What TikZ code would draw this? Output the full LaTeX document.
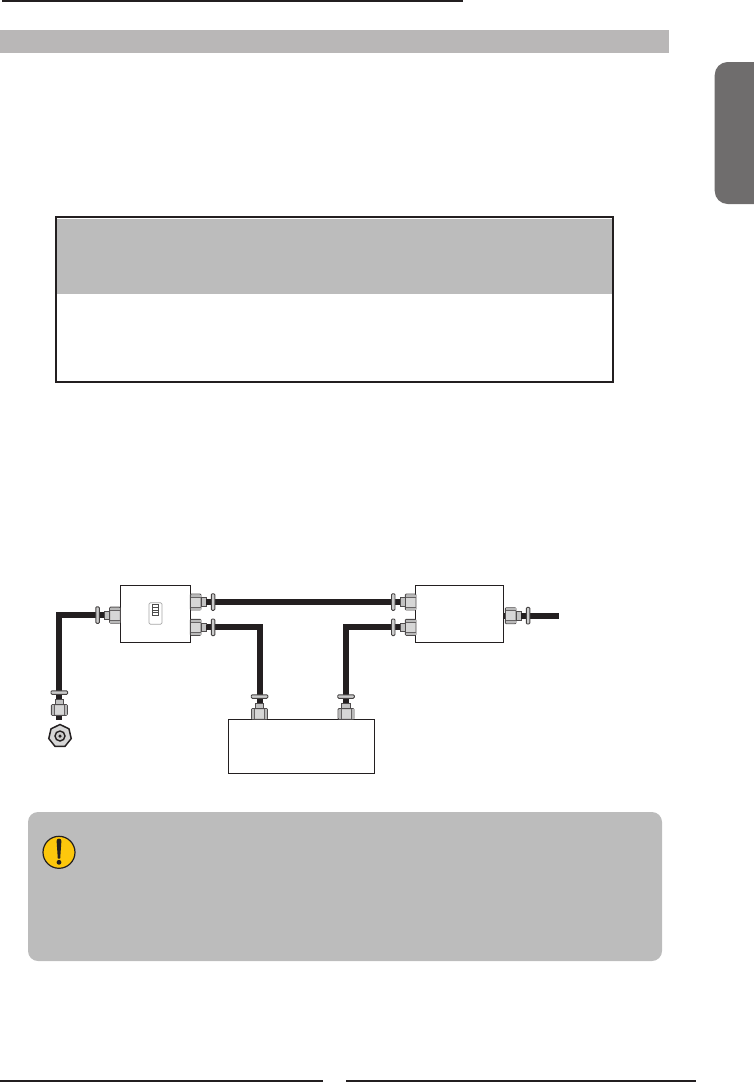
\documentclass[tikz,border=0pt]{standalone}
\usepackage{tikz}
\usetikzlibrary{calc}
\usetikzlibrary{shapes.geometric}
\definecolor{ink}{HTML}{231F20}
\definecolor{bargray}{HTML}{B9B7B7}
\definecolor{panelgray}{HTML}{BCBCBC}
\definecolor{tabgray}{HTML}{6F6D6D}
\definecolor{nutgray}{HTML}{D6D6D6}
\definecolor{collargray}{HTML}{A8A8A8}
\definecolor{alertyellow}{HTML}{FDC70C}
\tikzset{
  pipe/.style={draw=ink,line width=6pt,miter limit=10},
  unitbox/.style={rectangle,draw=ink,fill=white,line width=1pt,inner sep=0pt},
  pics/fitting/.style={code={
    \filldraw[fill=nutgray,draw=ink!80,line width=.9pt,rounded corners=1pt] (0,-8) rectangle (10.7,8);
    \fill[collargray!80] (.5,-7.5) rectangle (10.2,-5);
    \fill[collargray!80] (.5,5) rectangle (10.2,7.5);
    \draw[ink!70,line width=.5pt] (.5,-5) -- (10.2,-5) (.5,5) -- (10.2,5);
    \filldraw[fill=collargray!70,draw=ink!80,line width=.8pt] (10.7,-4.2) rectangle (16,4.2);
    \fill[ink] (16,-2.8) rectangle (21.5,2.8);
    \filldraw[fill=collargray!60,draw=ink!85,line width=.9pt,rounded corners=1pt] (21,-8.3) rectangle (24.5,8.3);
  }}
}
\begin{document}
\begin{tikzpicture}[x=1pt,y=-1pt]
\useasboundingbox (0,0) rectangle (754,1082);

\fill[ink] (2,0) rectangle (463,2);
\fill[bargray] (0,30) rectangle (669,53);
\fill[tabgray] (754,62) {[rounded corners=13pt] -- (714.7,62) -- (714.7,204)} -- (754,204) -- cycle;

\fill[panelgray] (57,218.7) rectangle (612,294);
\draw[ink,line width=2pt] (56,217) rectangle (613,382);

\node[unitbox,minimum width=70pt,minimum height=57pt] (splitter) at (155.3,613.6) {};
\node[unitbox,minimum width=88.4pt,minimum height=57pt] (tuner) at (459.5,613.6) {};
\node[unitbox,minimum width=146.4pt,minimum height=54pt] (unit) at (301.5,746.3) {};
\node[regular polygon,regular polygon sides=7,draw=ink,line width=1.5pt,fill=nutgray,inner sep=0pt,minimum size=23pt] (socket) at (60,736) {};
\node[circle,draw=ink,line width=1.4pt,fill=collargray!60,inner sep=0pt,minimum size=10pt] (socketring) at (socket.center) {};
\node[circle,fill=ink,inner sep=0pt,minimum size=3.5pt] (socketpin) at (socket.center) {};

\coordinate (wallin) at (59,720);
\coordinate (unitl) at (259.5,719.3);
\coordinate (unitr) at (346,719.3);
\coordinate (outend) at (559,615.7);
\coordinate (splitw) at ($(splitter.west)+(0,1.5)$);
\coordinate (splitt) at (190.3,602);
\coordinate (splitb) at (190.3,627.3);
\coordinate (tunert) at (415.3,602);
\coordinate (tunerb) at (415.3,627.3);

\draw[pipe] (splitt) -- (tunert);
\draw[pipe] (splitb) -| (unitl);
\draw[pipe] (tunerb) -| (unitr);
\draw[pipe] (splitw) -| (wallin);
\draw[pipe] (tuner.east |- outend) -- (outend);

\pic at (190.3,602) {fitting};
\pic at (190.3,627.3) {fitting};
\pic[rotate=180] at (120.3,615.1) {fitting};
\pic[rotate=180] at (416,602) {fitting};
\pic[rotate=180] at (416,627.3) {fitting};
\pic at (505.3,615.7) {fitting};
\pic[rotate=90] at (unitl) {fitting};
\pic[rotate=90] at (unitr) {fitting};
\pic[rotate=90] at (59.3,715.3) {fitting};

\draw[black!35,line width=.7pt,rounded corners=1.5pt] (149,602.7) rectangle (162,624.3);
\draw[black!70,line width=.5pt] (152,604.7) rectangle (158.7,615.3);
\foreach \y in {607.3,609.9,612.5} {
  \draw[black!70,line width=.5pt] (152,\y) -- (158.7,\y);
}

\fill[panelgray,rounded corners=10pt] (28,812) rectangle (662,961);
\node[circle,draw=ink,line width=1.2pt,fill=alertyellow,inner sep=0pt,minimum size=32pt] (alert) at (59,852.3) {};
\fill[ink] (56.6,841) .. controls (56.6,837.8) and (61.4,837.8) .. (61.4,841) -- (60.2,858.5) -- (57.8,858.5) -- cycle;
\fill[ink] (59,862.3) circle (2.4);

\fill[ink] (0,1080) rectangle (323,1082);
\fill[ink] (346,1080) rectangle (696,1082);
\end{tikzpicture}
\end{document}
